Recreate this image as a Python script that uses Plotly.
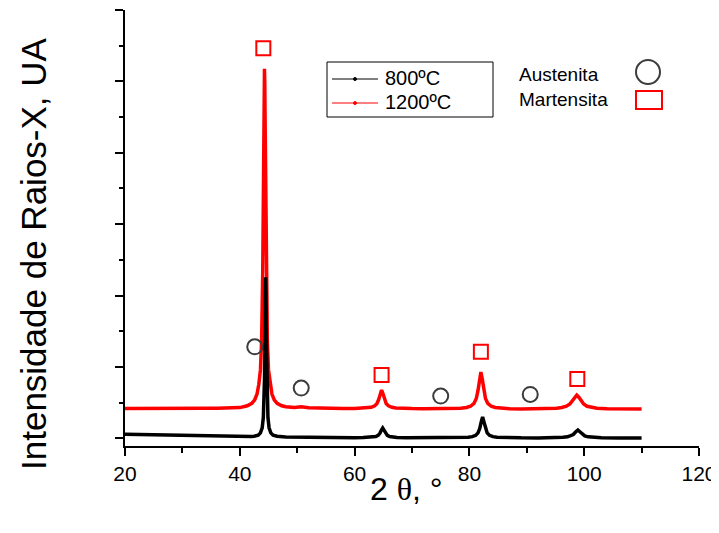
import plotly.graph_objects as go

# ---------------- data ----------------
# 1200 ºC pattern (red)
x_1200 = [20, 22, 24, 26, 28, 30, 32, 34, 36, 38, 40,
          41.3, 42.1, 42.6, 43.0, 43.3, 43.6, 43.8, 43.9, 44.0, 44.1, 44.15, 44.2, 44.25,
          44.3, 44.35, 44.4, 44.45, 44.5, 44.6, 44.7, 44.8, 45.0, 45.3, 45.6, 46.0, 46.5, 47.3,
          48, 49.5, 50.7, 52, 54, 56, 58, 60,
          61.5, 62.2, 62.9, 63.5, 63.9, 64.2, 64.45, 64.7, 64.95, 65.2, 65.5, 65.9, 66.5, 67.2,
          68.5, 70, 72, 74, 76, 78,
          78.5, 79.5, 80.2, 80.8, 81.2, 81.5, 81.75, 82.0, 82.25, 82.5, 82.8, 83.2, 83.8, 84.5, 85.5,
          87, 89, 91, 93,
          94.5, 95.2, 96.1, 96.9, 97.5, 97.9, 98.3, 98.7, 99.1, 99.5, 99.9, 100.5, 101.3, 102.2,
          104, 106, 108, 110]
y_1200 = [418, 420, 419, 421, 420, 421, 420, 422, 421, 423, 430,
          455, 490, 540, 620, 750, 958, 1371, 1756, 2369, 3320, 3916, 4519, 4992,
          5175, 4992, 4519, 3916, 3320, 2369, 1756, 1371, 958, 750, 620, 540, 490, 455,
          442, 432, 440, 428, 422, 420, 419, 418,
          420, 425, 434, 454, 488, 545, 624, 676, 624, 545, 488, 454, 434, 425,
          418, 416, 415, 414, 414, 415,
          422, 432, 449, 488, 557, 670, 825, 928, 825, 670, 557, 488, 449, 432, 422,
          414, 412, 412, 411,
          418, 422, 431, 449, 480, 519, 572, 605, 572, 519, 480, 449, 431, 422,
          414, 411, 410, 409]

# 800 ºC pattern (black)
x_800 = [20, 22, 24, 26, 28, 30, 32, 34, 36, 38, 40,
         42, 42.5, 43.2, 43.6, 43.9, 44.1, 44.2, 44.3, 44.35, 44.4, 44.45,
         44.5, 44.55, 44.6, 44.65, 44.7, 44.8, 44.9, 45.1, 45.4, 45.8, 46.5,
         48, 50, 52, 55, 58, 60,
         61.5, 62.4, 63.1, 63.7, 64.1, 64.4, 64.65, 64.9, 65.15, 65.4, 65.7, 66.1, 66.7, 67.4,
         69, 72, 75, 78,
         79.8, 80.5, 81.1, 81.5, 81.8, 82.05, 82.3, 82.55, 82.8, 83.1, 83.5, 84.1, 84.8,
         86, 89, 92, 94.5,
         96.3, 97.1, 97.7, 98.1, 98.5, 98.9, 99.3, 99.7, 100.1, 100.7, 101.5,
         103, 106, 110]
y_800 = [55, 52, 48, 45, 40, 36, 33, 28, 25, 22, 20,
         26, 28, 44, 76, 147, 291, 463, 822, 1135, 1567, 2032,
         2256, 2032, 1567, 1135, 822, 463, 291, 147, 76, 44, 28,
         18, 15, 13, 12, 10, 9,
         11, 12, 16, 25, 41, 69, 111, 144, 111, 69, 41, 25, 16, 12,
         8, 7, 7, 7,
         15, 23, 41, 76, 136, 226, 298, 226, 136, 76, 41, 23, 15,
         9, 6, 5, 6,
         13, 20, 33, 53, 88, 116, 88, 53, 33, 20, 13,
         7, 4, 3]

# phase markers
aust_x = [42.6, 50.7, 75.0, 90.6]
aust_y = [1281, 704, 592, 615]
mart_x = [44.1, 64.7, 82.0, 98.8]
mart_y = [5465, 886, 1211, 829]

x_ticks = [20, 40, 60, 80, 100, 120]
series_names = ["800ºC", "1200ºC"]
phase_names = ["Austenita", "Martensita"]

assert len(x_1200) == len(y_1200) and len(x_800) == len(y_800)

FONT = "Arial, Liberation Sans, sans-serif"
RED = "#ff0000"
GRAY = "#3c3c3c"

fig = go.Figure()
fig.add_trace(go.Scatter(x=x_1200, y=y_1200, mode="lines", line=dict(color=RED, width=3.5),
                         showlegend=False, hoverinfo="skip"))
fig.add_trace(go.Scatter(x=x_800, y=y_800, mode="lines", line=dict(color="black", width=3.5),
                         showlegend=False, hoverinfo="skip"))
fig.add_trace(go.Scatter(x=aust_x, y=aust_y, mode="markers", showlegend=False,
                         marker=dict(symbol="circle-open", size=15, color=GRAY, line=dict(width=2))))
fig.add_trace(go.Scatter(x=mart_x, y=mart_y, mode="markers", showlegend=False,
                         marker=dict(symbol="square-open", size=14, color=RED, line=dict(width=2))))

# The page body has an 8 px margin; the figure is sized so the plot area lands at
# page pixels x 125..699, y 10..446.
OFF = 8
W, H = 719 - OFF, 533 - OFF
PL, PR, PT, PB = 125, 699, 10, 446          # plot area in page pixels
L, R, T, B = PL - OFF, (W + OFF) - PR, PT - OFF, (H + OFF) - PB
pw, ph = PR - PL, PB - PT


def px(xp):
    return (xp - PL) / pw


def py(yp):
    return (PB - yp) / ph


fig.update_layout(
    width=W, height=H,
    margin=dict(l=L, r=R, t=T, b=B, autoexpand=False),
    paper_bgcolor="white", plot_bgcolor="white",
    font=dict(family=FONT, color="black", size=21),
    showlegend=False,
    xaxis=dict(range=[20, 120], tickvals=x_ticks, ticktext=[str(v) for v in x_ticks],
               showline=True, linecolor="black", linewidth=2, showgrid=False, zeroline=False,
               ticks="outside", ticklen=8, tickwidth=1.5, tickcolor="black",
               tickfont=dict(size=21, family=FONT),
               minor=dict(ticks="outside", ticklen=5, tickwidth=1.5, tickcolor="black", dtick=10)),
    yaxis=dict(range=[-108, 6000], dtick=1000, tick0=0, showticklabels=False,
               showline=True, linecolor="black", linewidth=2, showgrid=False, zeroline=False,
               ticks="outside", ticklen=8, tickwidth=1.5, tickcolor="black",
               minor=dict(ticks="outside", ticklen=4, tickwidth=1.5, tickcolor="black", dtick=500)),
)

fig.add_annotation(text="Intensidade de Raios-X, UA", x=px(33), y=py(254), xref="paper", yref="paper",
                   textangle=-90, showarrow=False, xanchor="center", yanchor="middle",
                   font=dict(size=35, family=FONT, color="black"))
fig.add_annotation(text="2 <span style='font-family:\"Liberation Serif\", serif'>θ</span>, °",
                   x=px(406), y=py(489), xref="paper", yref="paper",
                   showarrow=False, xanchor="center", yanchor="middle",
                   font=dict(size=32, family=FONT, color="black"))

# ---- series legend (box, sample lines with a dot, labels) ----
fig.add_shape(type="rect", xref="paper", yref="paper",
              x0=px(327), x1=px(493), y0=py(117), y1=py(62),
              line=dict(color="black", width=1), fillcolor="white", layer="above")
for name, col, yy in [(series_names[0], "black", 79), (series_names[1], RED, 103)]:
    fig.add_shape(type="line", xref="paper", yref="paper",
                  x0=px(332), x1=px(378), y0=py(yy), y1=py(yy),
                  line=dict(color=col, width=1), layer="above")
    fig.add_shape(type="circle", xref="paper", yref="paper",
                  x0=px(353.5), x1=px(356.5), y0=py(yy + 1.5), y1=py(yy - 1.5),
                  line=dict(color=col, width=1), fillcolor=col, layer="above")
    fig.add_annotation(text=name, x=px(383), y=py(yy - 1), xref="paper", yref="paper",
                       showarrow=False, xanchor="left", yanchor="middle",
                       font=dict(size=20, family=FONT, color="black"))

# ---- phase legend ----
fig.add_annotation(text=phase_names[0], x=px(517), y=py(74), xref="paper", yref="paper",
                   showarrow=False, xanchor="left", yanchor="middle",
                   font=dict(size=19, family=FONT, color="black"))
fig.add_annotation(text=phase_names[1], x=px(517), y=py(99), xref="paper", yref="paper",
                   showarrow=False, xanchor="left", yanchor="middle",
                   font=dict(size=19, family=FONT, color="black"))
fig.add_shape(type="circle", xref="paper", yref="paper",
              x0=px(636), x1=px(660), y0=py(84), y1=py(60),
              line=dict(color=GRAY, width=2))
fig.add_shape(type="rect", xref="paper", yref="paper",
              x0=px(636), x1=px(662), y0=py(109), y1=py(91),
              line=dict(color=RED, width=2))

fig.write_html("out.html")
